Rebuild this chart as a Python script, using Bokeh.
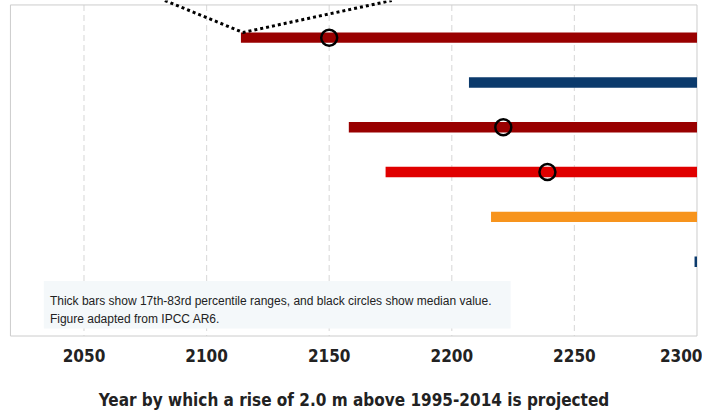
from bokeh.plotting import figure
from bokeh.models import Range1d, FixedTicker, ColumnDataSource
from bokeh.core.properties import value
from bokeh.embed import file_html
from bokeh.resources import INLINE

# ---------------- data ----------------
rows = ["row1", "row2", "row3", "row4", "row5", "row6"]
bar_start = [2114, 2207, 2158, 2173, 2216, 2299]
bar_end = [2300, 2300, 2300, 2300, 2300, 2300]
bar_colors = ["#990000", "#0b3a6c", "#990000", "#e00000", "#f7941d", "#0b3a6c"]
median_rows = [0, 2, 3]
median_years = [2150, 2221, 2239]
tick_years = [2050, 2100, 2150, 2200, 2250, 2300]
grid_years = [2050, 2100, 2150, 2200, 2250]
note_lines = ["Thick bars show 17th-83rd percentile ranges, and black circles show median value.",
              "Figure adapted from IPCC AR6."]
x_title = "Year by which a rise of 2.0 m above 1995-2014 is projected"
box_x = [2020, 2300]
connector_x = [2083.0, 2114.8, 2175.5]

# ---------------- layout ----------------
px = 45.2           # pixels per row
row0 = 37.5         # pixel of first row
def ypx(p):         # pixel -> data (rows downward)
    return (p - row0) / px

W, H = 702, 412
frame_bottom = 340
p = figure(width=W, height=H, output_backend="svg", toolbar_location=None,
           x_range=Range1d(2018.80, 2301.43),
           y_range=Range1d(ypx(frame_bottom), ypx(0)),
           min_border_left=7, min_border_right=2, min_border_top=0,
           min_border_bottom=H - frame_bottom, y_axis_location=None)
p.outline_line_color = None
p.xgrid.visible = False
p.ygrid.visible = False
p.background_fill_color = "white"

box_top, box_bottom = ypx(4.5), ypx(338.5)

# dashed grid lines
p.segment(x0=grid_years, x1=grid_years, y0=[box_top] * len(grid_years),
          y1=[box_bottom] * len(grid_years), line_color="#dddddd",
          line_width=1.2, line_dash="6 4")

# plot box
p.quad(left=[box_x[0]], right=[box_x[1]], top=[box_top], bottom=[box_bottom],
       fill_color=None, line_color="#cccccc", line_width=1)

# note box
p.quad(left=[2033.6], right=[2224.0], top=[ypx(283)], bottom=[ypx(331)],
       fill_color="#f4f8fa", line_color=None)
p.text(x=[2036.1, 2036.1], y=[ypx(303.5), ypx(321.5)], text=note_lines,
       text_font=value("Liberation Sans"), text_font_size="12px",
       text_color="#222222", text_baseline="alphabetic", text_align="left")

# bars
ys = list(range(len(rows)))
src = ColumnDataSource(dict(y=ys, left=bar_start, right=bar_end, color=bar_colors))
p.hbar(y="y", left="left", right="right", height=10.5 / px, fill_color="color",
       line_color=None, source=src)

# connector dotted lines (to inset above)
y_top = ypx(0)
y_corner = -0.5 * 10.5 / px
p.line(x=connector_x, y=[y_top, y_corner, y_top], line_color="black",
       line_width=3, line_dash="3 3")

# medians
p.scatter(x=median_years, y=median_rows, marker="circle", size=16,
          fill_color=None, line_color="black", line_width=2.5)

# axis
ax = p.xaxis[0]
ax.ticker = FixedTicker(ticks=tick_years)
ax.axis_line_color = None
ax.major_tick_line_color = None
ax.minor_tick_line_color = None
ax.major_tick_out = 0
ax.major_tick_in = 0
ax.major_label_standoff = 11
ax.major_label_text_font = "DejaVu Sans Condensed"
ax.major_label_text_font_style = "bold"
ax.major_label_text_font_size = "17px"
ax.major_label_text_color = "#222222"
ax.axis_label = x_title
ax.axis_label_text_font = "DejaVu Sans Condensed"
ax.axis_label_text_font_style = "bold"
ax.axis_label_text_font_size = "17px"
ax.axis_label_text_color = "#222222"
ax.axis_label_standoff = 25

open("out.html", "w").write(file_html(p, INLINE))
